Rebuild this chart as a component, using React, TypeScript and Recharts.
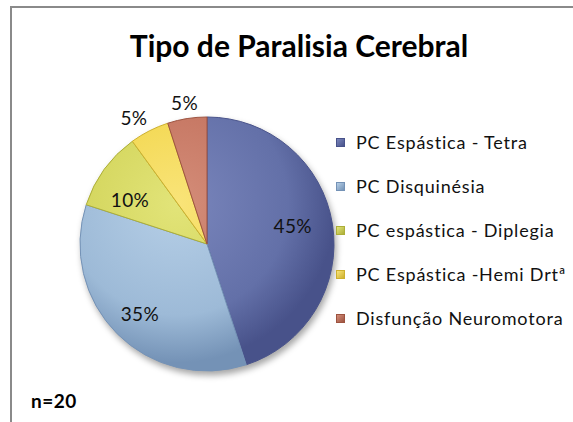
import { PieChart, Pie, Cell, Legend } from "recharts";

const categories = [
  "PC Espástica - Tetra",
  "PC Disquinésia",
  "PC espástica - Diplegia",
  "PC Espástica -Hemi Drtª",
  "Disfunção Neuromotora",
];
const counts = [9, 7, 2, 1, 1];
const sliceColors = ["#6370A8", "#9DBAD7", "#D2D45A", "#F2D64C", "#C47460"];
const edgeColors = ["#48528A", "#7492B6", "#ACAE38", "#CDB02E", "#9D5340"];
const lightColors = ["#7A86BC", "#B6CFE7", "#E2E479", "#F9E479", "#D48D79"];

// label placement (fraction of radius, angle shift in degrees)
const labelPlace = [
  { r: 0.69, shift: 3 },
  { r: 0.76, shift: 1 },
  { r: 0.7, shift: 6 },
  { r: 1.15, shift: 3 },
  { r: 1.13, shift: 0 },
];

const data = categories.map((name, i) => ({ name, value: counts[i] }));

const CX = 207;
const CY = 244;
const R = 127;
const FONT = "Lato, 'Open Sans', sans-serif";

const RAD = Math.PI / 180;

function PctLabel(props: any) {
  const { cx, cy, midAngle, outerRadius, percent, index } = props;
  const p = labelPlace[index];
  const a = (midAngle + p.shift) * RAD;
  const x = cx + outerRadius * p.r * Math.cos(a);
  const y = cy - outerRadius * p.r * Math.sin(a);
  return (
    <text x={x} y={y} textAnchor="middle" dominantBaseline="central" fontSize={19} letterSpacing={0.4} fontFamily={FONT} fill="#111">
      {`${Math.round(percent * 100)}%`}
    </text>
  );
}

function LegendBox() {
  return (
    <div style={{ fontFamily: FONT, fontSize: 18, letterSpacing: 0.8, color: "#111" }}>
      {data.map((d, i) => (
        <div key={d.name} style={{ display: "flex", alignItems: "center", height: 44 }}>
          <div
            style={{
              width: 9,
              height: 9,
              marginRight: 11,
              background: `linear-gradient(135deg, ${lightColors[i]}, ${edgeColors[i]})`,
              border: `1px solid ${edgeColors[i]}`,
              boxSizing: "border-box",
            }}
          />
          <span style={{ whiteSpace: "nowrap" }}>{d.name}</span>
        </div>
      ))}
    </div>
  );
}

export default function App() {
  return (
    <div style={{ position: "absolute", left: 0, top: 0, width: 573, height: 422, overflow: "hidden", background: "#fff" }}>
      <style>{`.recharts-pie { filter: drop-shadow(2px 4px 3px rgba(0,0,0,0.35)); }`}</style>
      <div
        style={{
          position: "absolute",
          left: 10,
          top: 6,
          width: 620,
          height: 500,
          border: "2px solid #8a8a8a",
          boxSizing: "border-box",
        }}
      />
      <div
        style={{
          position: "absolute",
          left: 0,
          width: 598,
          top: 27,
          textAlign: "center",
          fontFamily: FONT,
          fontWeight: 700,
          fontSize: 30,
          color: "#000",
        }}
      >
        Tipo de Paralisia Cerebral
      </div>
      <div
        style={{
          position: "absolute",
          left: 31,
          top: 389,
          fontFamily: FONT,
          fontWeight: 700,
          fontSize: 19,
          letterSpacing: 0.5,
          color: "#000",
        }}
      >
        n=20
      </div>
      <PieChart width={573} height={422} margin={{ top: 0, right: 0, bottom: 0, left: 0 }} style={{ position: "absolute", left: 0, top: 0 }}>
        <defs>
          {sliceColors.map((c, i) => (
            <radialGradient key={i} id={`slice${i}`} gradientUnits="userSpaceOnUse" cx={CX - 30} cy={CY - 40} r={R * 1.25}>
              <stop offset="0%" stopColor={lightColors[i]} />
              <stop offset="70%" stopColor={c} />
              <stop offset="100%" stopColor={edgeColors[i]} />
            </radialGradient>
          ))}
        </defs>
        <Pie
          data={data}
          dataKey="value"
          nameKey="name"
          cx={CX}
          cy={CY}
          outerRadius={R}
          startAngle={90}
          endAngle={-270}
          label={PctLabel}
          labelLine={false}
          isAnimationActive={false}
        >
          {data.map((d, i) => (
            <Cell key={d.name} fill={`url(#slice${i})`} stroke={edgeColors[i]} strokeWidth={1} />
          ))}
        </Pie>
        <Legend
          layout="vertical"
          content={() => <LegendBox />}
          wrapperStyle={{ position: "absolute", left: 336, top: 120, width: 237 }}
        />
      </PieChart>
    </div>
  );
}
